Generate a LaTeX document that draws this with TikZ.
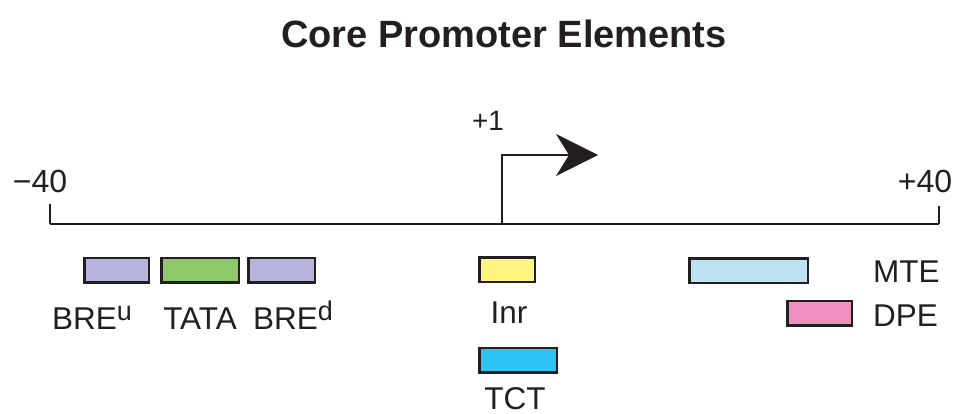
\documentclass[tikz,border=0pt]{standalone}
\usepackage{fontspec}
\setmainfont{Liberation Sans}
\usetikzlibrary{arrows.meta}

\definecolor{ink}{RGB}{35,31,32}
\definecolor{brecol}{RGB}{182,180,220}
\definecolor{tatacol}{RGB}{141,201,104}
\definecolor{inrcol}{RGB}{255,244,128}
\definecolor{tctcol}{RGB}{45,195,242}
\definecolor{mtecol}{RGB}{189,227,243}
\definecolor{dpecol}{RGB}{240,144,192}

\newcommand{\sups}[1]{\raisebox{9pt}{\fontsize{27}{27}\selectfont #1}}

\tikzset{
  element/.style={draw=ink, line width=2.5pt, inner sep=0pt, minimum height=24.5pt},
  lbl/.style={inner sep=0pt, text=ink, font=\fontsize{31.5}{36}\selectfont},
  axis/.style={draw=ink, line width=2.5pt},
  tick/.style={draw=ink, line width=2pt},
}

\begin{document}
\begin{tikzpicture}[x=1pt, y=-1pt]
\useasboundingbox (0,0) rectangle (958,414);

% title
\node[lbl, anchor=base, font=\fontsize{38}{42}\selectfont\bfseries] (title) at (504,48) {Core Promoter Elements};

% position axis
\coordinate (axL) at (50,224);
\coordinate (axR) at (939,224);
\coordinate (tickL) at (50,204);
\coordinate (tickR) at (939,206);
\draw[axis] (axL) -- (axR);
\draw[tick] (axL) -- (tickL);
\draw[tick] (axR) -- (tickR);
\node[lbl, anchor=base, font=\fontsize{32}{36}\selectfont] (mL) at (40,193) {−40};
\node[lbl, anchor=base, font=\fontsize{32}{36}\selectfont] (mR) at (925,193) {+40};

% transcription start site
\coordinate (tss) at (502,224);
\coordinate (bend) at (502,155);
\coordinate (tip) at (598,155);
\draw[axis, -{Stealth[length=42pt, width=42pt, inset=13pt]}] (tss) -- (bend) -- (tip);
\node[lbl, anchor=base, font=\fontsize{28}{32}\selectfont] (plus1) at (488,131) {+1};

% core promoter elements
\node[element, fill=brecol, minimum width=64.5pt] (breu) at (116.5,270) {};
\node[element, fill=tatacol, minimum width=77.5pt] (tata) at (200,270) {};
\node[element, fill=brecol, minimum width=66.5pt] (bred) at (281.5,270) {};
\node[element, fill=inrcol, minimum width=55.5pt] (inr) at (507,269.5) {};
\node[element, fill=tctcol, minimum width=77.5pt] (tct) at (518,360) {};
\node[element, fill=mtecol, minimum width=118.5pt] (mte) at (748.5,270.5) {};
\node[element, fill=dpecol, minimum width=64.5pt] (dpe) at (819.5,313) {};

% element names
\node[lbl, anchor=base west] (breuL) at (52,329) {BRE\sups{u}};
\node[lbl, anchor=base] (tataL) at (200,329) {TATA};
\node[lbl, anchor=base west] (bredL) at (253,329) {BRE\sups{d}};
\node[lbl, anchor=base] (inrL) at (509,323) {Inr};
\node[lbl, anchor=base] (tctL) at (515,409) {TCT};
\node[lbl, anchor=base west] (mteL) at (873,282) {MTE};
\node[lbl, anchor=base west] (dpeL) at (873,326) {DPE};
\end{tikzpicture}
\end{document}
